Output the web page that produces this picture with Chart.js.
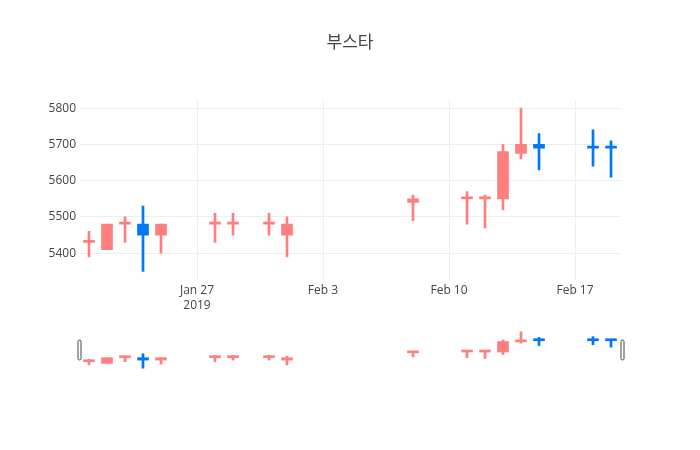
<!DOCTYPE html>
<html>
<head>
<meta charset="utf-8">
<script src="https://cdn.jsdelivr.net/npm/chart.js@4/dist/chart.umd.min.js"></script>
<style>
  html, body { margin: 0; padding: 0; background: #fff; }
  #wrap { position: relative; width: 700px; height: 450px; }
  #wrap canvas { position: absolute; left: 0; top: 0; }
</style>
</head>
<body>
<div id="wrap">
  <canvas id="main" width="700" height="450"></canvas>
  <canvas id="slider" width="700" height="450"></canvas>
</div>
<script>
const TITLE = '부스타';
const dates = ['2019-01-21','2019-01-22','2019-01-23','2019-01-24','2019-01-25',
               '2019-01-28','2019-01-29','2019-01-31','2019-02-01','2019-02-08',
               '2019-02-11','2019-02-12','2019-02-13','2019-02-14','2019-02-15',
               '2019-02-18','2019-02-19'];
const openV  = [5430,5410,5480,5480,5450,5480,5480,5480,5450,5540,5550,5550,5550,5675,5700,5690,5690];
const highV  = [5460,5480,5500,5530,5480,5510,5510,5510,5500,5560,5570,5560,5700,5800,5730,5740,5710];
const lowV   = [5390,5410,5430,5350,5400,5430,5450,5450,5390,5490,5480,5470,5520,5660,5630,5640,5610];
const closeV = [5430,5480,5480,5450,5480,5480,5480,5480,5480,5550,5550,5550,5680,5700,5690,5690,5690];
const yTicks = [5400,5500,5600,5700,5800];
const xTickDates = ['2019-01-27','2019-02-03','2019-02-10','2019-02-17'];
const xTickLabels = [['Jan 27','2019'],'Feb 3','Feb 10','Feb 17'];

const UP = '#ff7f7f', DOWN = '#0078f8';
const FONT = "'Open Sans', 'Noto Sans CJK KR', sans-serif";

const DAY = 86400000;
const base = Date.UTC(2019,0,0);
const toDay = s => (Date.parse(s + 'T00:00:00Z') - base) / DAY;
const xs = dates.map(toDay);
const xMin = Math.min(...xs) - 0.5, xMax = Math.max(...xs) + 0.5;
const lo = Math.min(...lowV), hi = Math.max(...highV);
const pad = (hi - lo) * 0.05;
const yMin = lo - pad, yMax = hi + pad;

// direction (plotly style: ties use previous close / previous direction)
const colors = [];
let prevDir = true;
for (let i = 0; i < dates.length; i++) {
  let d;
  if (closeV[i] > openV[i]) d = true;
  else if (closeV[i] < openV[i]) d = false;
  else if (i > 0 && closeV[i] > closeV[i-1]) d = true;
  else if (i > 0 && closeV[i] < closeV[i-1]) d = false;
  else d = prevDir;
  prevDir = d;
  colors.push(d ? UP : DOWN);
}

const wickData = xs.map((x, i) => ({x, y: [lowV[i], highV[i]]}));
const bodyData = xs.map((x, i) => ({x, y: [openV[i], closeV[i]]}));

function datasets() {
  return [
    { data: wickData, backgroundColor: colors, barThickness: 2, grouped: false, borderWidth: 0, order: 2 },
    { data: bodyData, backgroundColor: colors, barThickness: 11, grouped: false, borderWidth: 0, minBarLength: 2, order: 1 }
  ];
}

const titlePlugin = {
  id: 'plotTitle',
  afterDraw(chart) {
    const ctx = chart.ctx;
    ctx.save();
    ctx.font = '17px ' + FONT;
    ctx.fillStyle = '#444';
    ctx.textAlign = 'center';
    ctx.textBaseline = 'middle';
    ctx.fillText(TITLE, 350, 43);
    ctx.restore();
  }
};

new Chart(document.getElementById('main'), {
  type: 'bar',
  data: { datasets: datasets() },
  plugins: [titlePlugin],
  options: {
    responsive: false,
    animation: false,
    events: [],
    layout: { padding: { left: 0, right: 80, top: 100, bottom: 130.5 } },
    plugins: { legend: { display: false }, tooltip: { enabled: false }, title: { display: false } },
    scales: {
      x: {
        type: 'linear', min: xMin, max: xMax, offset: false,
        afterFit(s) { s.height = 40; },
        afterBuildTicks(s) { s.ticks = xTickDates.map(d => ({ value: toDay(d) })); },
        ticks: {
          autoSkip: false, maxRotation: 0, padding: 4,
          color: '#444', font: { family: FONT, size: 12 },
          callback: (v) => { const i = xTickDates.findIndex(d => toDay(d) === v); return i >= 0 ? xTickLabels[i] : ''; }
        },
        grid: { color: '#eee', drawTicks: false, lineWidth: 1, offset: false },
        border: { display: false }
      },
      y: {
        type: 'linear', min: yMin, max: yMax,
        afterFit(s) { s.width = 80; },
        afterBuildTicks(s) { s.ticks = yTicks.map(v => ({ value: v })); },
        ticks: { padding: 4, color: '#444', font: { family: FONT, size: 12 }, callback: v => String(v) },
        grid: { color: '#eee', drawTicks: false, lineWidth: 1 },
        border: { display: false }
      }
    }
  }
});

const handlePlugin = {
  id: 'handles',
  afterDraw(chart) {
    const ctx = chart.ctx, a = chart.chartArea;
    const mid = (a.top + a.bottom) / 2;
    ctx.save();
    ctx.fillStyle = '#fff';
    ctx.strokeStyle = '#444';
    ctx.lineWidth = 1;
    [a.left - 2.5, a.right + 0.5].forEach(x => {
      ctx.beginPath();
      ctx.roundRect(x + 0.5, mid - 10, 3, 20, 1.5);
      ctx.fill();
      ctx.stroke();
    });
    ctx.restore();
  }
};

new Chart(document.getElementById('slider'), {
  type: 'bar',
  data: { datasets: datasets() },
  plugins: [handlePlugin],
  options: {
    responsive: false,
    animation: false,
    events: [],
    layout: { padding: { left: 80, right: 80, top: 330, bottom: 80 } },
    plugins: { legend: { display: false }, tooltip: { enabled: false } },
    scales: {
      x: { type: 'linear', display: false, min: xMin, max: xMax, offset: false },
      y: { type: 'linear', display: false, min: yMin, max: yMax }
    }
  }
});
</script>
</body>
</html>
